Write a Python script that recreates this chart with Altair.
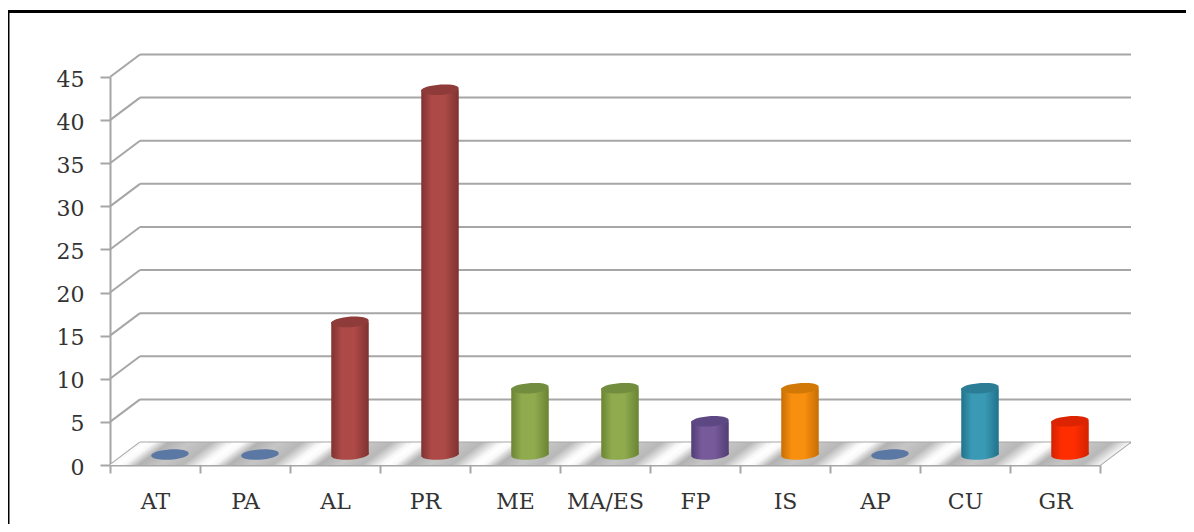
import altair as alt
import pandas as pd

categories = ["AT", "PA", "AL", "PR", "ME", "MA/ES", "FP", "IS", "AP", "CU", "GR"]
values = [0, 0, 15.38, 42.31, 7.69, 7.69, 3.85, 7.69, 0, 7.69, 3.85]
groups = ["blue", "blue", "brick", "brick", "green", "green", "purple", "orange", "blue", "teal", "red"]
y_ticks = [0, 5, 10, 15, 20, 25, 30, 35, 40, 45]

# group: (edge, centre, top)
palette = {
    "blue": ("#5b78a4", "#5b78a4", "#5b78a4"),
    "brick": ("#7f3230", "#ad4a47", "#8e3b39"),
    "green": ("#6a8433", "#8fab4e", "#728d3d"),
    "purple": ("#513d74", "#775a9a", "#5e4884"),
    "orange": ("#c66e04", "#f98f0e", "#d27806"),
    "teal": ("#22728a", "#3a9ab6", "#2a7d95"),
    "red": ("#d22200", "#ff2d00", "#dc2400"),
}

W, H = 990, 388
DX, DY = 30, 22.5
BAR_W = 37.5
BAR_DX, BAR_DY = 15, 10.5
GRAY = "#a6a6a6"
FONT = "DejaVu Serif"

df = pd.DataFrame({"cat": categories, "v": values, "g": groups})
ticks_df = pd.DataFrame({"v": y_ticks})
zero_df = pd.DataFrame({"v": [0]})

y_axis = alt.Axis(
    values=y_ticks, title=None, grid=False, orient="left", domainColor=GRAY, domainWidth=2,
    tickColor=GRAY, tickWidth=2, tickSize=10, labelPadding=16, labelOffset=2,
    labelFont=FONT, labelFontSize=22, labelColor="#333333",
)
y_scale = alt.Scale(domain=[0, 45], nice=False)


def y_enc(field="v"):
    return alt.Y(f"{field}:Q", scale=y_scale, axis=y_axis)


x_enc = alt.X(
    "cat:N",
    sort=categories,
    scale=alt.Scale(domain=categories, paddingInner=0, paddingOuter=0),
    axis=alt.Axis(
        title=None, labelAngle=0, orient="bottom", domainColor=GRAY, domainWidth=2, tickColor=GRAY,
        tickWidth=2, tickSize=8, tickBand="extent", labelPadding=18,
        labelFont=FONT, labelFontSize=22, labelColor="#333333", grid=False,
    ),
)

# back wall and side lines
back = alt.Chart(ticks_df).mark_rule(color=GRAY, strokeWidth=2, yOffset=-DY).encode(
    x=alt.value(DX), x2=alt.value(W + DX + 1), y=y_enc()
)
side = alt.Chart(ticks_df).mark_rule(color=GRAY, strokeWidth=2, y2Offset=-DY).encode(
    x=alt.value(0), x2=alt.value(DX), y=y_enc(), y2="v:Q"
)
side_right = alt.Chart(zero_df).mark_rule(color=GRAY, strokeWidth=2, y2Offset=-DY).encode(
    x=alt.value(W), x2=alt.value(W + DX), y=y_enc(), y2="v:Q"
)

# floor streaks, one parallelogram per category
depth_x = DX / (W / len(categories))
depth_v = DY / (H / 45)
floor_rows = []
for i, c in enumerate(categories):
    floor_rows += [
        {"cat": c, "fx": i, "lo": 0, "hi": 0},
        {"cat": c, "fx": i + depth_x, "lo": 0, "hi": depth_v},
        {"cat": c, "fx": i + 1, "lo": 0, "hi": depth_v},
        {"cat": c, "fx": i + 1 + depth_x, "lo": depth_v, "hi": depth_v},
    ]
floor_grad = alt.LinearGradient(
    gradient="linear",
    x1=0, y1=1, x2=0.706, y2=1.176,
    stops=[
        alt.GradientStop(color="#f6f6f6", offset=0),
        alt.GradientStop(color="#ffffff", offset=0.07),
        alt.GradientStop(color="#f8f8f8", offset=0.16),
        alt.GradientStop(color="#b2b2b2", offset=0.32),
        alt.GradientStop(color="#c6c6c6", offset=0.55),
        alt.GradientStop(color="#b8b8b8", offset=0.8),
        alt.GradientStop(color="#f6f6f6", offset=1),
    ],
)
floor = alt.Chart(pd.DataFrame(floor_rows)).mark_area(color=floor_grad, opacity=1).encode(
    x=alt.X("fx:Q", scale=alt.Scale(domain=[0, len(categories)], nice=False, zero=False), axis=None),
    y=y_enc("lo"),
    y2="hi:Q",
    detail="cat:N",
)

ELLIPSE = "M -0.996 0.07 A 1 0.26 -4 1 1 0.996 -0.07 A 1 0.26 -4 1 1 -0.996 0.07 Z"


def grad(edge, mid):
    return alt.LinearGradient(
        gradient="linear", x1=0, y1=0, x2=1, y2=0,
        stops=[
            alt.GradientStop(color=edge, offset=0),
            alt.GradientStop(color=mid, offset=0.28),
            alt.GradientStop(color=mid, offset=0.62),
            alt.GradientStop(color=edge, offset=1),
        ],
    )


bars = []
for g, (edge, mid, top) in palette.items():
    sub = df[df.g == g]
    tall = sub[sub.v > 0]
    if len(tall):
        body = alt.Chart(tall).mark_bar(
            color=grad(edge, mid), width=BAR_W, xOffset=BAR_DX, yOffset=-BAR_DY, y2Offset=-BAR_DY
        ).encode(x=x_enc, y=y_enc(), y2=alt.Y2(datum=0))
        foot = alt.Chart(tall.assign(v=0)).mark_point(
            shape=ELLIPSE, size=BAR_W**2, filled=True, opacity=1, color=grad(edge, mid),
            strokeWidth=0, xOffset=BAR_DX, yOffset=-BAR_DY,
        ).encode(x=x_enc, y=y_enc())
        bars += [foot, body]
    head = alt.Chart(sub).mark_point(
        shape=ELLIPSE, size=BAR_W**2, filled=True, opacity=1, color=top,
        strokeWidth=0, xOffset=BAR_DX, yOffset=-BAR_DY,
    ).encode(x=x_enc, y=y_enc())
    bars.append(head)

# picture frame: top and left only
frame_top = alt.Chart(zero_df).mark_rule(color="#000000", strokeWidth=3).encode(
    x=alt.value(-102), x2=alt.value(1076), y=alt.value(-65.5)
)
frame_left = alt.Chart(zero_df).mark_rule(color="#000000", strokeWidth=3).encode(
    x=alt.value(-102), y=alt.value(-67), y2=alt.value(447)
)

chart = (
    alt.layer(back, side, side_right, floor, alt.layer(*bars), frame_top, frame_left)
    .resolve_scale(x="independent")
    .properties(
        width=W, height=H,
        autosize=alt.AutoSizeParams(type="none"),
        padding={"left": 102, "top": 69, "right": 86, "bottom": 59},
        background="#ffffff",
    )
    .configure_view(stroke=None)
)
chart.save("out.html", embed_options={"renderer": "svg", "actions": False})
